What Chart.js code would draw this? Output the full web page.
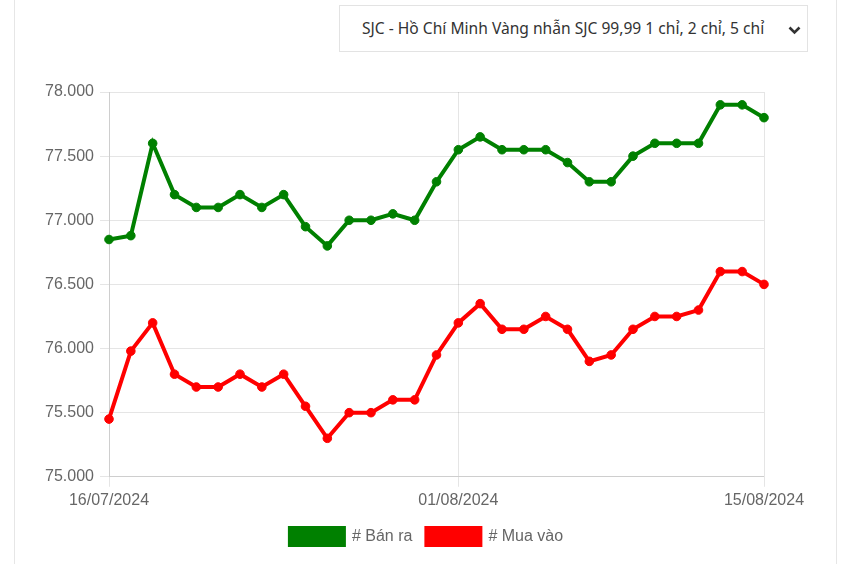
<!DOCTYPE html>
<html>
<head>
<meta charset="utf-8">
<script src="https://cdn.jsdelivr.net/npm/chart.js@4"></script>
<style>
  html, body { margin: 0; padding: 0; background: #fff; }
  body { width: 853px; height: 564px; position: relative; overflow: hidden; }
  #frame { position: absolute; left: 14px; top: -2px; width: 821px; height: 570px; border-left: 1px solid #e6e6e6; border-right: 1px solid #e6e6e6; }
  #sel { position: absolute; left: 339px; top: 5px; width: 469px; height: 47px; border: 1px solid #e3e3e3; box-sizing: border-box; background: #fff;
         font-family: "Noto Sans", sans-serif; font-size: 15.6px; color: #333; }
  #sel span { position: absolute; left: 22px; top: 11px; white-space: nowrap; }
  #sel svg { position: absolute; left: 448px; top: 20px; }
  #wrap { position: absolute; left: 0; top: 0; width: 853px; height: 564px; }
</style>
</head>
<body>
<div id="frame"></div>
<div id="sel"><span>SJC - Hồ Chí Minh Vàng nhẫn SJC 99,99 1 chỉ, 2 chỉ, 5 chỉ</span>
<svg width="13" height="9" viewBox="0 0 13 9"><polyline points="1.5,1.5 6.5,6.5 11.5,1.5" fill="none" stroke="#333" stroke-width="2.6"/></svg></div>
<div id="wrap"><canvas id="c" width="853" height="564"></canvas></div>
<script>
const dates = ["16/07/2024","17/07/2024","18/07/2024","19/07/2024","20/07/2024","21/07/2024","22/07/2024","23/07/2024","24/07/2024","25/07/2024","26/07/2024","27/07/2024","28/07/2024","29/07/2024","30/07/2024","31/07/2024","01/08/2024","02/08/2024","03/08/2024","04/08/2024","05/08/2024","06/08/2024","07/08/2024","08/08/2024","09/08/2024","10/08/2024","11/08/2024","12/08/2024","13/08/2024","14/08/2024","15/08/2024"];
const shownDates = ["16/07/2024","01/08/2024","15/08/2024"];
const banRa = [76850,76880,77600,77200,77100,77100,77200,77100,77200,76950,76800,77000,77000,77050,77000,77300,77550,77650,77550,77550,77550,77450,77300,77300,77500,77600,77600,77600,77900,77900,77800];
const muaVao = [75450,75980,76200,75800,75700,75700,75800,75700,75800,75550,75300,75500,75500,75600,75600,75950,76200,76350,76150,76150,76250,76150,75900,75950,76150,76250,76250,76300,76600,76600,76500];
const seriesNames = ["# Bán ra", "# Mua vào"];
const yTicks = [75000, 75500, 76000, 76500, 77000, 77500, 78000];

function fmt(v) { return String(v).replace(/\B(?=(\d{3})+(?!\d))/g, '.'); }

const FONT = { family: '"Liberation Sans", Arial, sans-serif', size: 16 };
const GRID = 'rgba(0,0,0,0.1)';

new Chart(document.getElementById('c'), {
  type: 'line',
  data: {
    labels: dates,
    datasets: [
      { label: seriesNames[0], data: banRa, borderColor: '#008000', backgroundColor: '#008000', pointBackgroundColor: '#008000', pointBorderColor: '#008000', borderWidth: 4, pointRadius: 4.3, pointBorderWidth: 1, tension: 0, fill: false },
      { label: seriesNames[1], data: muaVao, borderColor: '#ff0000', backgroundColor: '#ff0000', pointBackgroundColor: '#ff0000', pointBorderColor: '#ff0000', borderWidth: 4, pointRadius: 4.3, pointBorderWidth: 1, tension: 0, fill: false }
    ]
  },
  options: {
    responsive: false,
    animation: false,
    devicePixelRatio: 1,
    layout: { padding: { left: 0, right: 0, top: 92, bottom: 9 } },
    plugins: {
      tooltip: { enabled: false },
      legend: {
        position: 'bottom',
        labels: { font: FONT, color: '#666', boxWidth: 54, boxHeight: 17, padding: 14 }
      }
    },
    scales: {
      x: {
        type: 'category',
        offset: false,
        grid: { color: GRID, tickLength: 10, drawOnChartArea: true },
        border: { color: GRID },
        ticks: {
          font: FONT, color: '#666', autoSkip: false, maxRotation: 0, padding: 4,
          callback: function(val, idx) { const l = dates[idx]; return shownDates.includes(l) ? l : null; }
        }
      },
      y: {
        min: yTicks[0], max: yTicks[yTicks.length - 1],
        afterFit: function(s) { s.width = 109; },
        afterBuildTicks: function(s) { s.ticks = yTicks.map(v => ({ value: v })); },
        grid: { color: GRID, tickLength: 9 },
        border: { color: GRID },
        ticks: { font: FONT, color: '#666', padding: 6, callback: v => fmt(v) }
      },
      yRight: {
        position: 'right',
        display: true,
        grid: { display: false, drawTicks: false },
        border: { display: false },
        ticks: { display: false },
        afterFit: function(s) { s.width = 89; }
      }
    }
  }
});
</script>
</body>
</html>
